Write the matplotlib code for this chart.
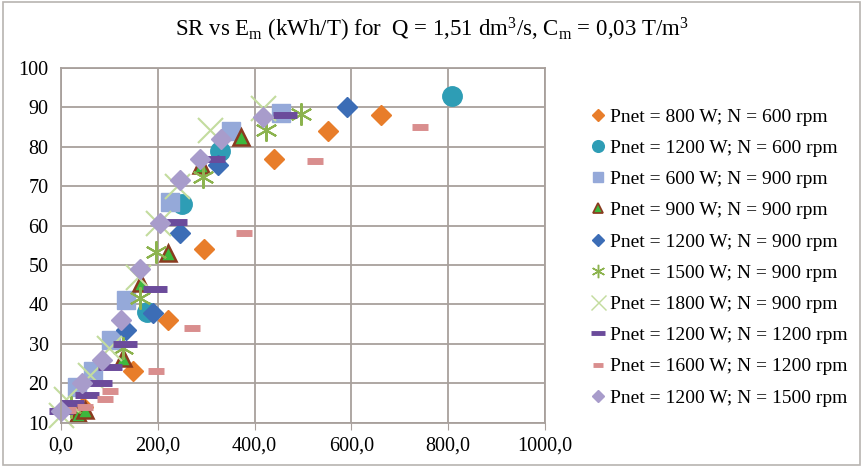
import matplotlib.pyplot as plt
from matplotlib.lines import Line2D

plt.rcParams['font.family'] = ['Liberation Serif', 'DejaVu Serif']
plt.rcParams['mathtext.fontset'] = 'custom'
plt.rcParams['mathtext.rm'] = 'Liberation Serif'
plt.rcParams['mathtext.it'] = 'Liberation Serif:italic'

# data: Em (kWh/T) and SR (%)
orange_x = [45, 149, 221, 295, 441, 551, 662]
orange_y = [14, 23, 36, 54, 77, 84, 88]
teal_x = [177, 249, 328, 808]
teal_y = [38, 65.5, 79, 93]
square_x = [32, 67, 104, 135, 225, 352, 455]
square_y = [19, 23, 31, 41, 66, 84, 88.5]
tri_x = [36, 50, 128, 166, 221, 290, 372]
tri_y = [12.2, 13.2, 26.5, 45.5, 53, 75.5, 82.5]
blue_x = [135, 190, 245, 324, 591]
blue_y = [33.5, 37.7, 58, 75.5, 90]
star_x = [20, 128, 163, 197, 293, 424, 496]
star_y = [14, 29, 41.5, 53.4, 72.4, 84.2, 88.2]
cross_x = [0, 10, 60, 100, 160, 200, 240, 307, 417]
cross_y = [12, 16, 22, 29, 47, 60.6, 70, 84.3, 89.8]
pdash_x = [0, 22, 53, 80, 102, 132, 194, 235, 314, 462]
pdash_y = [13, 15, 17, 20, 24, 30, 44, 61, 77, 88]
rdash_x = [15, 50, 91, 101, 197, 271, 379, 525, 742]
rdash_y = [13.2, 14, 16, 18, 23, 34, 58, 76.5, 85]
lilac_x = [0, 43, 84, 124, 164, 204, 245, 288, 330, 417]
lilac_y = [13, 20, 26, 36, 49, 60.6, 71.6, 77, 82, 87.5]

labels = ['Pnet = 800 W; N = 600 rpm', 'Pnet = 1200 W; N = 600 rpm',
          'Pnet = 600 W; N = 900 rpm', 'Pnet = 900 W; N = 900 rpm',
          'Pnet = 1200 W; N = 900 rpm', 'Pnet = 1500 W; N = 900 rpm',
          'Pnet = 1800 W; N = 900 rpm', 'Pnet = 1200 W; N = 1200 rpm',
          'Pnet = 1600 W; N = 1200 rpm', 'Pnet = 1200 W; N = 1500 rpm']

fig = plt.figure(figsize=(8.63, 4.67), dpi=100)
ax = fig.add_axes([0.0707, 0.0951, 0.5608, 0.7593])

# marker styles: (x, y, marker, size, face, edge, edgewidth)
styles = [
    (orange_x, orange_y, 'D', 10, '#E87D2A', '#E87D2A', 1),
    (teal_x, teal_y, 'o', 14, '#2E9DB5', '#2E9DB5', 1),
    (square_x, square_y, 's', 13, '#95A9D9', '#95A9D9', 1),
    (tri_x, tri_y, '^', 12, '#3DB83D', '#8A3B1F', 1.8),
    (blue_x, blue_y, 'D', 10, '#3C6DB6', '#3C6DB6', 1),
    (star_x, star_y, (6, 2, 0), 16, '#8CB34E', '#8CB34E', 1.5),
    (cross_x, cross_y, 'x', 18, '#C3DC9E', '#C3DC9E', 1.5),
    (pdash_x, pdash_y, '_', 17, '#6B4B9B', '#6B4B9B', 5),
    (rdash_x, rdash_y, '_', 12, '#D98E8E', '#D98E8E', 5),
    (lilac_x, lilac_y, 'D', 10, '#A89CCB', '#A89CCB', 1),
]

handles = []
for (xs, ys, m, s, fc, ec, ew), lab in zip(styles, labels):
    ax.plot(xs, ys, linestyle='none', marker=m, markersize=s,
            markerfacecolor=fc, markeredgecolor=ec, markeredgewidth=ew,
            clip_on=False)
    handles.append(Line2D([], [], linestyle='none', marker=m,
                          markersize=s * 0.6, markerfacecolor=fc,
                          markeredgecolor=ec, markeredgewidth=max(ew * 0.7, 1),
                          label=lab))

grid_col = '#A8A09C'
ax.set_xlim(0, 1000)
ax.set_ylim(10, 100)
ax.set_xticks([0, 200, 400, 600, 800, 1000])
ax.set_xticklabels(['0,0', '200,0', '400,0', '600,0', '800,0', '1000,0'])
ax.set_yticks(range(10, 101, 10))
ax.grid(True, color=grid_col, linewidth=1.3)
ax.set_axisbelow(True)
for sp in ax.spines.values():
    sp.set_color(grid_col)
    sp.set_linewidth(1.3)
ax.tick_params(axis='x', length=5, color=grid_col, labelsize=14.5, pad=5)
ax.tick_params(axis='y', length=0, labelsize=14.5, pad=9)

fig.text(0.5, 0.936,
         r'SR vs E$_{\mathrm{m}}$ (kWh/T) for  Q = 1,51 dm$^{3}$/s, '
         r'C$_{\mathrm{m}}$ = 0,03 T/m$^{3}$',
         ha='center', va='center', fontsize=16.5)

fig.legend(handles=handles, loc='center left', bbox_to_anchor=(0.675, 0.449),
           frameon=False, fontsize=14, labelspacing=0.7, handlelength=0.8,
           handletextpad=0.2, borderaxespad=0)

# thin grey frame around the whole chart
fig.patches.append(plt.Rectangle((0.003, 0.004), 0.994, 0.992,
                                 transform=fig.transFigure, fill=False,
                                 edgecolor='#B8B4B0', linewidth=1.2))

fig.savefig('out.png', dpi=100)
